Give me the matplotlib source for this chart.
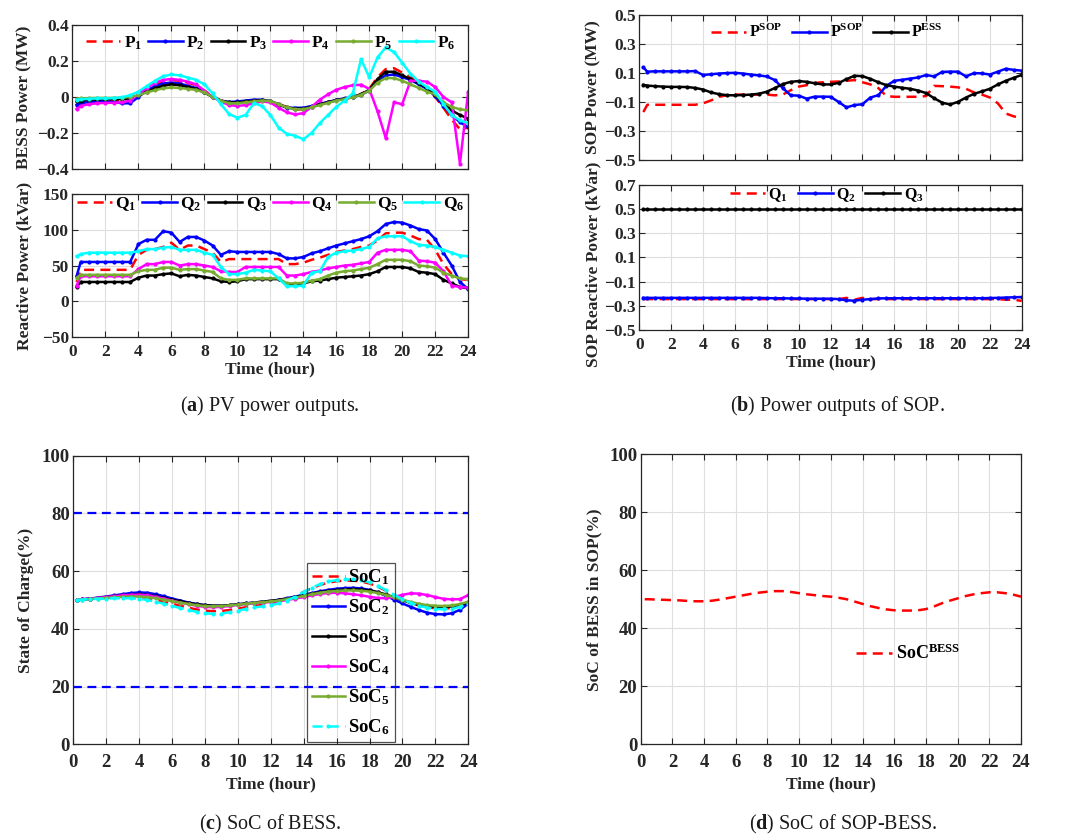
import numpy as np
import matplotlib
matplotlib.use('Agg')
import matplotlib.pyplot as plt
from matplotlib.ticker import FuncFormatter

plt.rcParams['font.family'] = ['Liberation Serif', 'DejaVu Serif']
plt.rcParams['font.weight'] = 'bold'
plt.rcParams['axes.labelweight'] = 'bold'
plt.rcParams['mathtext.fontset'] = 'custom'
plt.rcParams['mathtext.rm'] = 'Liberation Serif:bold'
plt.rcParams['mathtext.bf'] = 'Liberation Serif:bold'
plt.rcParams['mathtext.it'] = 'Liberation Serif:bold'
plt.rcParams['mathtext.default'] = 'bf'

# time axis (hours): 0.25 then every half hour
t = np.r_[0.25, np.arange(0.5, 24.01, 0.5)]

# (a) BESS active power, MW
p1 = [-0.035, -0.03, -0.025, -0.022, -0.02, -0.02, -0.018, -0.01,
      0.015, 0.045, 0.07, 0.088, 0.095, 0.09, 0.08, 0.065,
      0.035, 0.005, -0.02, -0.035, -0.035, -0.03, -0.025, -0.02,
      -0.025, -0.04, -0.055, -0.07, -0.068, -0.055, -0.04, -0.03,
      -0.018, -0.01, 0.0, 0.015, 0.045, 0.11, 0.155, 0.16,
      0.135, 0.11, 0.08, 0.05, 0.0, -0.06, -0.125, -0.18,
      -0.17]
p2 = [-0.043, -0.035, -0.028, -0.025, -0.024, -0.028, -0.035, -0.035,
      0.0, 0.035, 0.06, 0.075, 0.08, 0.075, 0.062, 0.05,
      0.028, 0.0, -0.02, -0.028, -0.025, -0.02, -0.015, -0.015,
      -0.022, -0.04, -0.06, -0.06, -0.06, -0.05, -0.038, -0.028,
      -0.016, -0.008, 0.0, 0.012, 0.035, 0.09, 0.12, 0.125,
      0.11, 0.095, 0.07, 0.045, 0.005, -0.05, -0.1, -0.14,
      -0.168]
p3 = [-0.024, -0.02, -0.015, -0.013, -0.012, -0.012, -0.012, -0.008,
      0.01, 0.03, 0.048, 0.062, 0.07, 0.065, 0.055, 0.045,
      0.025, 0.0, -0.02, -0.03, -0.03, -0.025, -0.02, -0.018,
      -0.024, -0.042, -0.058, -0.065, -0.065, -0.055, -0.04, -0.03,
      -0.018, -0.01, 0.0, 0.015, 0.04, 0.1, 0.14, 0.14,
      0.12, 0.1, 0.075, 0.05, 0.01, -0.035, -0.075, -0.1,
      -0.12]
p4 = [-0.067, -0.05, -0.04, -0.035, -0.033, -0.032, -0.03, -0.02,
      0.015, 0.05, 0.078, 0.095, 0.1, 0.095, 0.085, 0.07,
      0.035, 0.0, -0.025, -0.045, -0.05, -0.045, -0.035, -0.025,
      -0.03, -0.06, -0.085, -0.097, -0.09, -0.055, -0.015, 0.015,
      0.04, 0.055, 0.065, 0.068, 0.045, -0.08, -0.228, -0.03,
      -0.04, 0.09, 0.09, 0.085, 0.055, 0.0, -0.03, -0.37,
      0.03]
p5 = [-0.011, -0.008, -0.006, -0.005, -0.005, -0.005, -0.004, 0.0,
      0.01, 0.025, 0.038, 0.048, 0.053, 0.05, 0.045, 0.04,
      0.025, 0.0, -0.02, -0.035, -0.035, -0.03, -0.025, -0.02,
      -0.022, -0.04, -0.058, -0.068, -0.068, -0.058, -0.045, -0.033,
      -0.02, -0.012, -0.002, 0.012, 0.035, 0.08, 0.105, 0.105,
      0.09, 0.07, 0.05, 0.03, 0.015, -0.03, -0.055, -0.068,
      -0.075]
p6 = [-0.015, -0.013, -0.01, -0.008, -0.008, -0.006, -0.002, 0.01,
      0.03, 0.06, 0.09, 0.115, 0.125, 0.12, 0.108, 0.095,
      0.07, 0.02, -0.04, -0.095, -0.115, -0.1, -0.035, -0.05,
      -0.1, -0.17, -0.205, -0.215, -0.235, -0.2, -0.145, -0.1,
      -0.055, -0.02, 0.02, 0.21, 0.11, 0.22, 0.275, 0.25,
      0.19, 0.13, 0.085, 0.055, 0.03, -0.04, -0.1, -0.13,
      -0.145]

# (a) reactive power, kVar
q1 = [27, 44, 44, 44, 44, 44, 44, 44,
      65, 72, 73, 76, 82, 72, 78, 78,
      73, 68, 55, 59, 59, 59, 59, 59,
      59, 59, 52, 52, 54, 58, 61, 65,
      69, 71, 73, 76, 78, 85, 95, 96,
      96, 92, 87, 86, 72, 52, 38, 31,
      30]
q2 = [35, 55, 55, 55, 55, 55, 55, 55,
      80, 86, 86, 98, 96, 83, 90, 90,
      85, 78, 65, 70, 69, 69, 69, 69,
      69, 66, 60, 60, 62, 67, 70, 74,
      78, 81, 84, 87, 91, 98, 108, 111,
      110, 106, 101, 99, 87, 68, 50, 27,
      17]
q3 = [20, 27, 27, 27, 27, 27, 27, 27,
      33, 36, 36, 38, 39, 35, 37, 36,
      34, 32, 28, 27, 28, 31, 31, 31,
      31, 31, 24, 24, 25, 28, 29, 31,
      33, 34, 35, 36, 38, 42, 48, 48,
      48, 46, 41, 40, 38, 30, 25, 20,
      18]
q4 = [22, 35, 35, 35, 35, 35, 35, 35,
      45, 52, 52, 55, 55, 50, 52, 52,
      50, 48, 42, 41, 41, 48, 48, 48,
      48, 48, 36, 36, 38, 41, 43, 46,
      48, 50, 51, 53, 55, 68, 72, 72,
      72, 70, 57, 56, 54, 42, 22, 20,
      19]
q5 = [33, 37, 37, 37, 37, 37, 37, 37,
      42, 44, 44, 47, 47, 44, 45, 45,
      43, 41, 32, 30, 30, 32, 32, 32,
      32, 32, 25, 25, 26, 29, 31, 36,
      40, 42, 43, 45, 47, 52, 58, 58,
      58, 56, 50, 49, 47, 40, 36, 32,
      31]
q6 = [63, 66, 68, 68, 68, 68, 68, 68,
      70, 73, 73, 75, 76, 72, 72, 72,
      68, 65, 48, 38, 38, 40, 44, 43,
      42, 32, 21, 21, 22, 40, 42, 62,
      68, 70, 71, 73, 76, 88, 91, 91,
      91, 84, 79, 78, 76, 72, 68, 64,
      63]

# (b) SOP active power, MW
psop1 = [-0.17, -0.12, -0.12, -0.12, -0.12, -0.12, -0.12, -0.12,
         -0.11, -0.09, -0.065, -0.055, -0.05, -0.05, -0.05, -0.05,
         -0.05, -0.055, -0.05, -0.02, 0.005, 0.015, 0.03, 0.035,
         0.038, 0.04, 0.045, 0.05, 0.035, 0.02, -0.005, -0.06,
         -0.065, -0.065, -0.065, -0.065, -0.06, 0.01, 0.008, 0.005,
         0.0, -0.01, -0.035, -0.05, -0.07, -0.11, -0.18, -0.2,
         -0.21]
psop2 = [0.137, 0.108, 0.11, 0.11, 0.11, 0.11, 0.11, 0.112,
         0.085, 0.09, 0.095, 0.098, 0.1, 0.095, 0.088, 0.082,
         0.075, 0.05, -0.005, -0.055, -0.057, -0.078, -0.064, -0.064,
         -0.065, -0.1, -0.138, -0.122, -0.116, -0.07, -0.054, 0.01,
         0.045, 0.052, 0.06, 0.068, 0.085, 0.075, 0.106, 0.108,
         0.108, 0.075, 0.098, 0.096, 0.088, 0.108, 0.128, 0.12,
         0.115]
pess = [0.017, 0.012, 0.008, 0.005, 0.003, 0.003, 0.002, -0.004,
        -0.015, -0.035, -0.047, -0.054, -0.055, -0.053, -0.05, -0.044,
        -0.03, -0.005, 0.022, 0.038, 0.043, 0.038, 0.028, 0.02,
        0.02, 0.03, 0.056, 0.08, 0.077, 0.058, 0.035, 0.015,
        0.005, -0.003, -0.01, -0.022, -0.04, -0.075, -0.105, -0.118,
        -0.1, -0.07, -0.045, -0.028, -0.01, 0.02, 0.045, 0.066,
        0.085]

# (b) SOP reactive power
qs1 = [-0.245] * 24 + [-0.245, -0.245, -0.235, -0.25, -0.235, -0.245, -0.245, -0.245] \
      + [-0.245] * 14 + [-0.25, -0.25, -0.26]
qs2 = [-0.235] * 16 + [-0.237, -0.238, -0.238, -0.24, -0.24, -0.242, -0.242, -0.242,
                       -0.242, -0.245, -0.255, -0.258, -0.25, -0.245, -0.24, -0.238] \
      + [-0.238] * 12 + [-0.236, -0.235, -0.232, -0.23, -0.228]
qs3 = [0.5] * 49

# (c) SoC of each BESS, %
soc1 = [50.0, 50.1, 50.3, 50.5, 50.7, 50.8, 50.9, 50.9,
        50.8, 50.5, 50.0, 49.4, 48.7, 48.0, 47.3, 46.7,
        46.3, 46.1, 46.2, 46.5, 47.0, 47.5, 47.9, 48.3,
        48.6, 49.2, 50.1, 51.4, 52.8, 54.1, 55.2, 56.0,
        56.5, 56.7, 56.7, 56.4, 55.7, 54.6, 53.2, 51.7,
        50.2, 49.0, 48.1, 47.5, 47.1, 47.0, 47.2, 47.8,
        48.7]
soc2 = [50.0, 50.2, 50.5, 50.8, 51.2, 51.6, 52.0, 52.4,
        52.6, 52.5, 52.0, 51.3, 50.5, 49.8, 49.1, 48.6,
        48.2, 48.0, 48.0, 48.2, 48.5, 48.8, 49.1, 49.4,
        49.7, 50.1, 50.6, 51.2, 51.8, 52.4, 53.0, 53.5,
        53.9, 54.1, 54.2, 54.0, 53.5, 52.6, 51.4, 50.1,
        48.8, 47.6, 46.5, 45.6, 45.1, 45.0, 45.4, 46.6,
        48.8]
soc3 = [50.0, 50.2, 50.4, 50.7, 51.0, 51.3, 51.6, 51.8,
        51.9, 51.7, 51.3, 50.7, 50.1, 49.5, 49.0, 48.5,
        48.2, 48.0, 48.0, 48.2, 48.5, 48.8, 49.1, 49.4,
        49.7, 50.0, 50.5, 51.0, 51.6, 52.2, 52.7, 53.1,
        53.4, 53.6, 53.7, 53.6, 53.3, 52.7, 51.9, 50.9,
        49.9, 49.0, 48.3, 47.8, 47.5, 47.5, 47.8, 48.3,
        49.2]
soc4 = [50.0, 50.2, 50.4, 50.7, 51.0, 51.3, 51.6, 51.8,
        51.8, 51.6, 51.1, 50.5, 49.8, 49.1, 48.5, 48.0,
        47.6, 47.5, 47.6, 47.9, 48.3, 48.6, 48.9, 49.1,
        49.3, 49.6, 50.0, 50.5, 51.0, 51.6, 52.1, 52.4,
        52.5, 52.3, 52.0, 51.6, 51.1, 50.7, 50.6, 51.0,
        51.8, 52.3, 52.2, 51.7, 51.0, 50.4, 50.2, 50.3,
        51.7]
soc5 = [50.0, 50.1, 50.3, 50.5, 50.7, 50.9, 51.1, 51.2,
        51.2, 51.0, 50.6, 50.1, 49.6, 49.1, 48.6, 48.2,
        47.9, 47.8, 47.9, 48.1, 48.4, 48.7, 49.0, 49.2,
        49.5, 49.8, 50.3, 50.8, 51.4, 52.0, 52.5, 52.9,
        53.1, 53.3, 53.3, 53.2, 52.9, 52.4, 51.7, 50.9,
        50.1, 49.3, 48.7, 48.2, 48.0, 47.9, 48.1, 48.6,
        49.4]
soc6 = [50.0, 50.1, 50.3, 50.4, 50.5, 50.6, 50.6, 50.6,
        50.4, 50.0, 49.4, 48.7, 48.0, 47.2, 46.5, 45.9,
        45.4, 45.2, 45.3, 45.7, 46.3, 46.9, 47.4, 47.8,
        48.2, 48.8, 49.8, 51.2, 52.8, 54.3, 55.5, 56.4,
        56.9, 57.1, 57.1, 56.8, 56.1, 54.9, 53.4, 51.8,
        50.2, 49.0, 48.0, 47.3, 46.9, 46.8, 47.0, 47.6,
        48.6]
soc_max = 80
soc_min = 20

# (d) SoC of BESS in SOP, %
soc_sop = [50.0, 50.0, 49.9, 49.8, 49.7, 49.6, 49.4, 49.3,
           49.3, 49.5, 49.9, 50.4, 50.9, 51.4, 51.9, 52.3,
           52.6, 52.8, 52.8, 52.5, 52.1, 51.7, 51.4, 51.1,
           50.9, 50.5, 50.0, 49.2, 48.4, 47.6, 47.0, 46.5,
           46.2, 46.1, 46.1, 46.2, 46.6, 47.5, 48.6, 49.5,
           50.3, 51.1, 51.7, 52.1, 52.4, 52.4, 52.1, 51.6,
           50.9]

RED = '#ff0000'
BLUE = '#0000ff'
BLACK = '#000000'
MAG = '#ff00ff'
GREEN = '#77ac30'
CYAN = '#00ffff'
DARK = '#262626'
DASH = (4, 2.5)


def fmt(v, pos):
    return ('%g' % v).replace('-', '\u2212')


def style(ax, ylim, yticks, xlab=True, size=12.5, xpad=5, lpad=1):
    ax.set_xlim(0, 24)
    ax.set_xticks(range(0, 25, 2))
    ax.set_ylim(*ylim)
    ax.set_yticks(yticks)
    ax.yaxis.set_major_formatter(FuncFormatter(fmt))
    ax.grid(True, color='#dedede', linewidth=0.8)
    ax.set_axisbelow(True)
    ax.tick_params(direction='in', top=True, right=True, length=4, width=0.8,
                   labelsize=size, colors=DARK)
    ax.tick_params(axis='x', pad=xpad)
    ax.tick_params(axis='y', pad=2.5)
    for s in ax.spines.values():
        s.set_color(DARK)
        s.set_linewidth(0.9)
    if xlab:
        ax.set_xlabel('Time (hour)', fontsize=12.5, color=DARK, labelpad=lpad)
    else:
        ax.tick_params(labelbottom=False)


def line(ax, y, color, label, dashed=False, marker=True, lw=1.8):
    kw = dict(color=color, lw=lw, label=label)
    if marker:
        kw.update(marker='o', ms=3, mew=0)
    ln, = ax.plot(t, y, **kw)
    if dashed:
        ln.set_dashes(DASH)
    return ln


fig = plt.figure(figsize=(10.67, 8.39), dpi=100)

# ---------- (a) top
ax = fig.add_axes([0.0679, 0.7986, 0.3709, 0.1716])
line(ax, p1, RED, '$P_1$', dashed=True, marker=False)
line(ax, p2, BLUE, '$P_2$')
line(ax, p3, BLACK, '$P_3$')
line(ax, p4, MAG, '$P_4$')
line(ax, p5, GREEN, '$P_5$')
line(ax, p6, CYAN, '$P_6$')
style(ax, (-0.4, 0.4), [-0.4, -0.2, 0, 0.2, 0.4], xlab=False)
ax.set_ylabel('BESS Power (MW)', fontsize=12.5, color=DARK)
ax.yaxis.set_label_coords(-0.1, 0.5)
ax.legend(ncol=6, loc='center', bbox_to_anchor=(0.5, 0.875), frameon=False,
          fontsize=12.5, handlelength=2.0, handletextpad=0.2, columnspacing=0.35,
          numpoints=1, borderaxespad=0, borderpad=0)

# ---------- (a) bottom
ax = fig.add_axes([0.0679, 0.5983, 0.3709, 0.1704])
line(ax, q1, RED, '$Q_1$', dashed=True, marker=False)
line(ax, q2, BLUE, '$Q_2$')
line(ax, q3, BLACK, '$Q_3$')
line(ax, q4, MAG, '$Q_4$')
line(ax, q5, GREEN, '$Q_5$')
line(ax, q6, CYAN, '$Q_6$')
style(ax, (-50, 150), [-50, 0, 50, 100, 150])
ax.set_ylabel('Reactive Power (kVar)', fontsize=12.5, color=DARK)
ax.yaxis.set_label_coords(-0.1, 0.5)
ax.legend(ncol=6, loc='center', bbox_to_anchor=(0.5, 0.93), frameon=False,
          fontsize=12.5, handlelength=2.0, handletextpad=0.2, columnspacing=0.35,
          numpoints=1, borderaxespad=0, borderpad=0)

# ---------- (b) top
ax = fig.add_axes([0.5992, 0.8093, 0.3584, 0.1732])
line(ax, psop1, RED, '$P^{SOP}$', dashed=True, marker=False)
line(ax, psop2, BLUE, '$P^{SOP}$')
line(ax, pess, BLACK, '$P^{ESS}$')
style(ax, (-0.5, 0.5), [-0.5, -0.3, -0.1, 0.1, 0.3, 0.5], xlab=False)
ax.set_ylabel('SOP Power (MW)', fontsize=12.5, color=DARK)
ax.yaxis.set_label_coords(-0.1, 0.5)
ax.legend(ncol=3, loc='center', bbox_to_anchor=(0.49, 0.876), frameon=False,
          fontsize=11.5, handlelength=2.2, handletextpad=0.2, columnspacing=0.6,
          numpoints=1, borderaxespad=0, borderpad=0)

# ---------- (b) bottom
ax = fig.add_axes([0.5992, 0.6067, 0.3584, 0.1732])
line(ax, qs1, RED, '$Q_1$', dashed=True, marker=False)
line(ax, qs2, BLUE, '$Q_2$')
line(ax, qs3, BLACK, '$Q_3$')
style(ax, (-0.5, 0.7), [-0.5, -0.3, -0.1, 0.1, 0.3, 0.5, 0.7])
ax.set_ylabel('SOP Reactive Power (kVar)', fontsize=12.5, color=DARK)
ax.yaxis.set_label_coords(-0.1, 0.45)
ax.legend(ncol=3, loc='center', bbox_to_anchor=(0.49, 0.93), frameon=False,
          fontsize=11.5, handlelength=2.2, handletextpad=0.2, columnspacing=0.6,
          numpoints=1, borderaxespad=0, borderpad=0)

# ---------- (c)
ax = fig.add_axes([0.0687, 0.1129, 0.3702, 0.344])
ax.axhline(soc_max, color=BLUE, lw=1.6, dashes=DASH)
ax.axhline(soc_min, color=BLUE, lw=1.6, dashes=DASH)
line(ax, soc1, RED, '$SoC_1$', dashed=True, marker=False)
line(ax, soc2, BLUE, '$SoC_2$')
line(ax, soc3, BLACK, '$SoC_3$')
line(ax, soc4, MAG, '$SoC_4$')
line(ax, soc5, GREEN, '$SoC_5$')
line(ax, soc6, CYAN, '$SoC_6$', dashed=True)
style(ax, (0, 100), range(0, 101, 20), size=13.5, xpad=7, lpad=4)
ax.set_ylabel('State of Charge(%)', fontsize=12.5, color=DARK)
ax.yaxis.set_label_coords(-0.1, 0.5)
leg = ax.legend(loc='lower left', bbox_to_anchor=(0.592, 0.008), fontsize=13.5,
                handlelength=1.75, handletextpad=0.2, labelspacing=0.55,
                numpoints=1, borderaxespad=0, borderpad=0.25, fancybox=False,
                edgecolor=DARK, facecolor='none')
leg.get_frame().set_linewidth(0.9)

# ---------- (d)
ax = fig.add_axes([0.6005, 0.1129, 0.3564, 0.3457])
line(ax, soc_sop, RED, '$SoC^{BESS}$', dashed=True, marker=False)
style(ax, (0, 100), range(0, 101, 20), size=13.5, xpad=7, lpad=4)
ax.set_ylabel('SoC of BESS in SOP(%)', fontsize=12.5, color=DARK)
ax.yaxis.set_label_coords(-0.1, 0.5)
ax.legend(loc='center left', bbox_to_anchor=(0.566, 0.314), frameon=False,
          fontsize=13, handlelength=2.0, handletextpad=0.2,
          borderaxespad=0, borderpad=0)

# ---------- captions
caps = [(0.253, 0.516, r'($\mathbf{a}$) PV power outputs.'),
        (0.785, 0.516, r'($\mathbf{b}$) Power outputs of SOP.'),
        (0.253, 0.017, r'($\mathbf{c}$) SoC of BESS.'),
        (0.790, 0.017, r'($\mathbf{d}$) SoC of SOP-BESS.')]
for x, y, s in caps:
    fig.text(x, y, s, ha='center', va='center', fontsize=14.5, fontweight='normal',
             color='#1a1a1a')

fig.savefig('out.png', dpi=100)
